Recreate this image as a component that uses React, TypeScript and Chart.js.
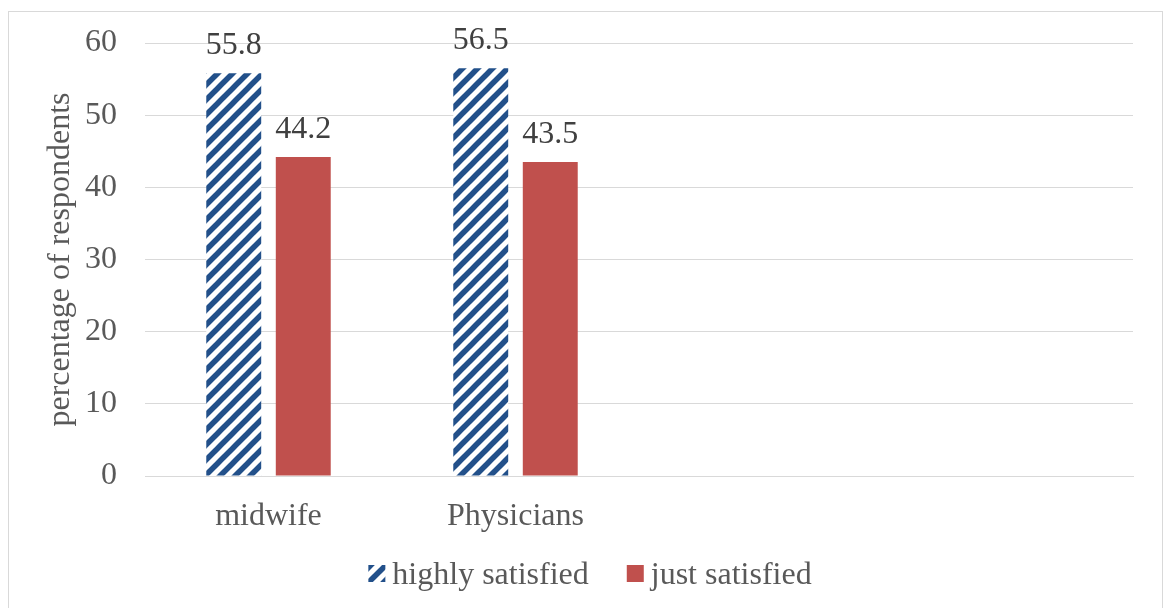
import React, { useEffect, useRef } from "react";
import { Chart, registerables } from "chart.js";

Chart.register(...registerables);

const categories = ["midwife", "Physicians", "", ""];
const highlySatisfied = [55.8, 56.5, null, null];
const justSatisfied = [44.2, 43.5, null, null];
const seriesNames = ["highly satisfied", "just satisfied"];
const yTicks = [0, 10, 20, 30, 40, 50, 60];
const yTitle = "percentage of respondents";

const FONT = "'Liberation Serif', 'Times New Roman', serif";
const FS = 32;
const TEXT = "#595959";

function makeHatch(): CanvasPattern | string {
  const size = 15;
  const c = document.createElement("canvas");
  c.width = size;
  c.height = size;
  const ctx = c.getContext("2d");
  if (!ctx) return "#1F4E8C";
  ctx.fillStyle = "#ffffff";
  ctx.fillRect(0, 0, size, size);
  ctx.strokeStyle = "#22508A";
  ctx.lineWidth = 5.5;
  ctx.lineCap = "square";
  for (const off of [-size, 0, size]) {
    ctx.beginPath();
    ctx.moveTo(off, size);
    ctx.lineTo(off + size, 0);
    ctx.stroke();
  }
  const p = ctx.createPattern(c, "repeat");
  return p || "#1F4E8C";
}

const valueLabels = {
  id: "valueLabels",
  afterDatasetsDraw(chart: any) {
    const ctx = chart.ctx;
    ctx.save();
    ctx.font = `${FS}px ${FONT}`;
    ctx.fillStyle = "#404040";
    ctx.textAlign = "center";
    ctx.textBaseline = "alphabetic";
    chart.data.datasets.forEach((ds: any, di: number) => {
      const meta = chart.getDatasetMeta(di);
      meta.data.forEach((bar: any, i: number) => {
        const v = ds.data[i];
        if (v === null || v === undefined) return;
        ctx.fillText(String(v), bar.x, bar.y - 19);
      });
    });
    ctx.restore();
  },
};

const customLegend = {
  id: "customLegend",
  afterDraw(chart: any) {
    const ctx = chart.ctx;
    ctx.save();
    ctx.font = `${FS}px ${FONT}`;
    const box = 17;
    const gap = 7;
    const itemGap = 38;
    const items = chart.data.datasets.map((ds: any) => ({
      label: ds.label,
      fill: ds.backgroundColor,
      w: box + gap + ctx.measureText(ds.label).width,
    }));
    const total = items.reduce((s: number, it: any) => s + it.w, 0) + itemGap * (items.length - 1);
    let x = 581 - total / 2;
    const baseline = 572;
    const boxTop = 553;
    items.forEach((it: any) => {
      ctx.fillStyle = it.fill;
      ctx.fillRect(x, boxTop, box, box);
      ctx.fillStyle = TEXT;
      ctx.textAlign = "left";
      ctx.textBaseline = "alphabetic";
      ctx.fillText(it.label, x + box + gap, baseline);
      x += it.w + itemGap;
    });
    ctx.restore();
  },
};

export default function App() {
  const ref = useRef<HTMLCanvasElement | null>(null);
  useEffect(() => {
    if (!ref.current) return;
    const hatch = makeHatch();
    const chart = new Chart(ref.current, {
      type: "bar",
      data: {
        labels: categories,
        datasets: [
          {
            label: seriesNames[0],
            data: highlySatisfied,
            backgroundColor: hatch as any,
            borderWidth: 0,
            categoryPercentage: 0.563,
            barPercentage: 0.79,
          },
          {
            label: seriesNames[1],
            data: justSatisfied,
            backgroundColor: "#C0504D",
            borderWidth: 0,
            categoryPercentage: 0.563,
            barPercentage: 0.79,
          },
        ],
      },
      options: {
        animation: false,
        responsive: false,
        layout: { padding: { top: 31, right: 29, bottom: 60, left: 10 } },
        plugins: {
          legend: { display: false },
          tooltip: { enabled: false },
        },
        scales: {
          x: {
            grid: { display: false, drawTicks: false },
            border: { display: true, color: "#d9d9d9" },
            ticks: { font: { family: FONT, size: FS }, color: TEXT, padding: 21 },
            afterFit(scale: any) {
              scale.height = 72;
              scale.paddingLeft = 0;
              scale.paddingRight = 0;
            },
          },
          y: {
            min: 0,
            max: 60,
            afterBuildTicks(scale: any) {
              scale.ticks = yTicks.map((v) => ({ value: v }));
            },
            grid: { color: "#d9d9d9", drawTicks: false },
            border: { display: false },
            ticks: { font: { family: FONT, size: FS }, color: TEXT, padding: 28 },
            title: {
              display: true,
              text: yTitle,
              font: { family: FONT, size: FS },
              color: TEXT,
              padding: { top: 22, bottom: 0 },
            },
            afterFit(scale: any) {
              scale.width = 126;
              scale.paddingTop = 0;
              scale.paddingBottom = 0;
            },
          },
        },
      },
      plugins: [valueLabels, customLegend],
    });
    return () => chart.destroy();
  }, []);

  return (
    <>
      <div
        style={{
          position: "fixed",
          left: 8,
          top: 11,
          width: 1153,
          height: 620,
          border: "1px solid #d9d9d9",
          background: "#fff",
        }}
      />
      <canvas
        ref={ref}
        width={1153}
        height={596}
        style={{ position: "fixed", left: 9, top: 12, width: 1153, height: 596 }}
      />
    </>
  );
}
